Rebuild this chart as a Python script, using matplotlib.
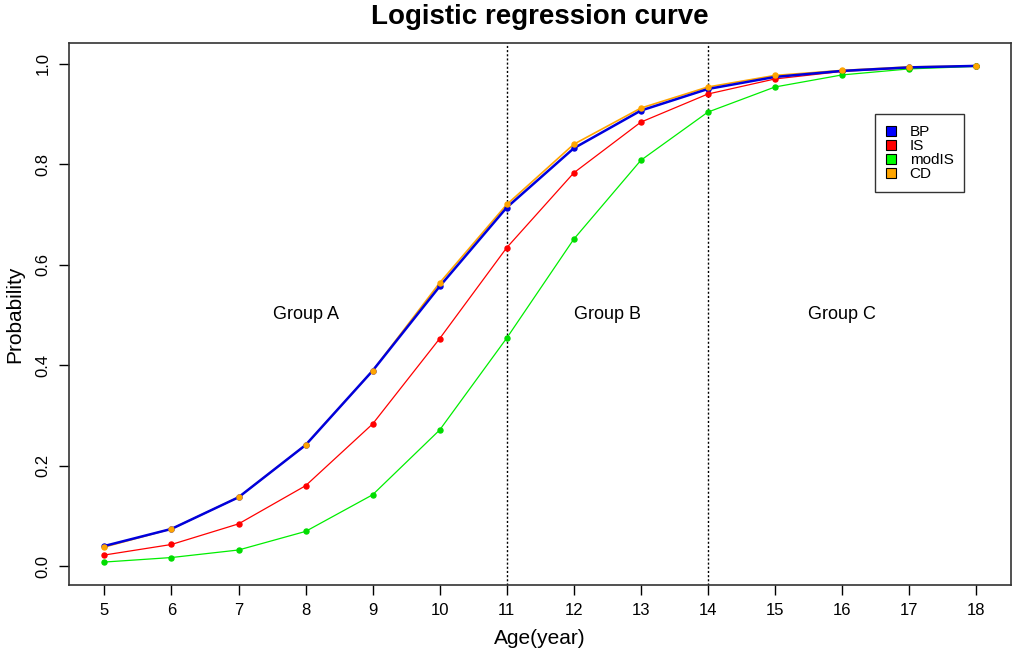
import matplotlib
matplotlib.use('Agg')
import matplotlib.pyplot as plt
from matplotlib.patches import Patch

plt.rcParams['font.family'] = ['Liberation Sans', 'DejaVu Sans']

age = [5, 6, 7, 8, 9, 10, 11, 12, 13, 14, 15, 16, 17, 18]
bp = [0.040, 0.074, 0.137, 0.241, 0.389, 0.557, 0.714, 0.832, 0.907, 0.950, 0.974, 0.986, 0.993, 0.996]
cd = [0.038, 0.074, 0.137, 0.241, 0.389, 0.564, 0.720, 0.840, 0.912, 0.954, 0.977, 0.987, 0.994, 0.996]
is_ = [0.022, 0.043, 0.084, 0.160, 0.283, 0.453, 0.634, 0.783, 0.884, 0.940, 0.970, 0.985, 0.992, 0.996]
modis = [0.008, 0.017, 0.032, 0.069, 0.142, 0.271, 0.454, 0.651, 0.808, 0.904, 0.954, 0.978, 0.990, 0.995]

cuts = [11, 14]                       # group boundaries
groups = ['Group A', 'Group B', 'Group C']
group_x = [8, 12.5, 16]
yticks = [0.0, 0.2, 0.4, 0.6, 0.8, 1.0]

fig = plt.figure(figsize=(10.13, 6.56), dpi=100)
ax = fig.add_axes([0.068, 0.108, 0.930, 0.826])

# lines first, then points on top
ax.plot(age, cd, color='#ffa500', lw=1.2, zorder=2)
ax.plot(age, bp, color='#0000dd', lw=1.8, zorder=3)
ax.plot(age, is_, color='#ff0000', lw=0.9, zorder=2)
ax.plot(age, modis, color='#00ee00', lw=0.9, zorder=2)
ax.plot(age, bp, 'o', color='#0000dd', ms=3.6, zorder=4)
ax.plot(age, is_, 'o', color='#ff0000', ms=3.6, zorder=4)
ax.plot(age, modis, 'o', color='#00dd00', ms=3.6, zorder=4)
ax.plot(age, cd, 'o', color='#ffa500', ms=3.6, zorder=5)

for c in cuts:
    ax.axvline(c, color='black', lw=1.0, ls=(0, (1.5, 1.5)), zorder=1)

for g, gx in zip(groups, group_x):
    ax.text(gx, 0.5, g, ha='center', va='center', fontsize=13)

ax.set_xlim(4.47, 18.52)
ax.set_ylim(-0.038, 1.041)
ax.set_xticks(age)
ax.set_yticks(yticks)
ax.set_yticklabels(['%.1f' % v for v in yticks], rotation=90, va='center')
ax.tick_params(direction='out', length=7, width=1, labelsize=12, pad=6)
for s in ax.spines.values():
    s.set_linewidth(1.2)
    s.set_color('#333333')

ax.set_xlabel('Age(year)', fontsize=15, labelpad=8)
ax.set_ylabel('Probability', fontsize=15, labelpad=8)
ax.set_title('Logistic regression curve', fontsize=20, fontweight='bold', pad=14)

handles = [Patch(facecolor=c, edgecolor='black', lw=0.8) for c in ['#0000ff', '#ff0000', '#00ff00', '#ffa500']]
leg = ax.legend(handles, ['BP', 'IS', 'modIS', 'CD'], loc='upper left',
                bbox_to_anchor=(0.856, 0.869), fontsize=11, frameon=True,
                fancybox=False, edgecolor='black', handlelength=0.65,
                handleheight=0.65, handletextpad=0.9, labelspacing=0.0,
                borderpad=0.7, borderaxespad=0)
leg.get_frame().set_linewidth(1.0)

fig.savefig('out.png', dpi=100)
